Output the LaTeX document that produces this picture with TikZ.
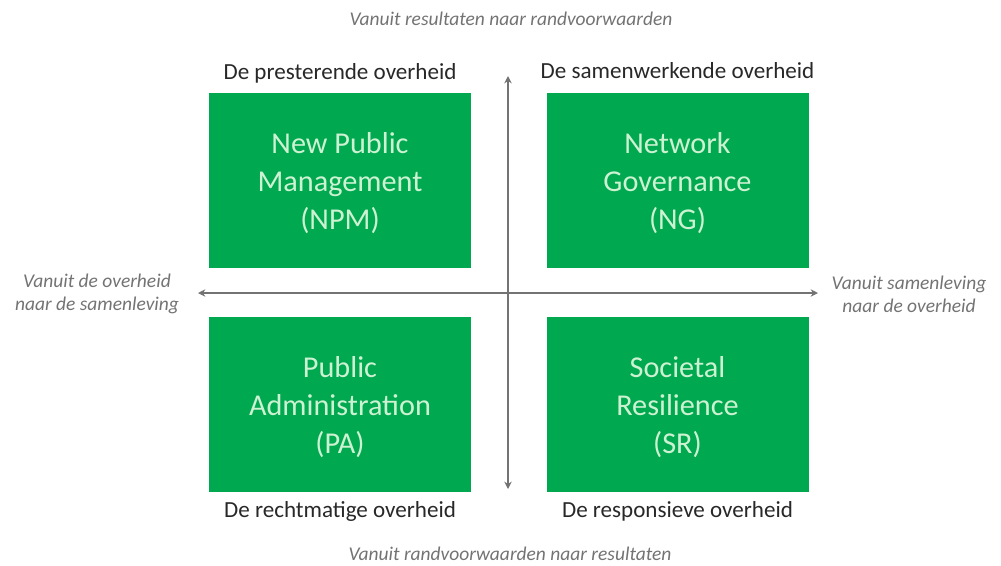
\documentclass[tikz,border=0pt]{standalone}
\usepackage{fontspec}
\setmainfont{Carlito}
\usetikzlibrary{arrows.meta}
\definecolor{boxgreen}{RGB}{0,168,80}
\definecolor{boxtext}{RGB}{205,242,210}
\definecolor{axisgray}{RGB}{115,115,115}
\definecolor{labeldark}{RGB}{40,40,40}
\definecolor{notegray}{RGB}{115,115,115}
\begin{document}
\begin{tikzpicture}[x=0.75pt,y=-0.75pt,
  quad/.style={fill=boxgreen, draw=none, minimum width=196.5pt, minimum height=131pt, inner sep=0pt},
  quadtext/.style={text=boxtext, align=center, font=\fontsize{22.7}{28.5}\selectfont, inner sep=0pt},
  heading/.style={text=labeldark, font=\fontsize{17.3}{20}\selectfont, inner sep=0pt},
  note/.style={text=notegray, font=\fontsize{14.6}{17.5}\selectfont\itshape, align=center, inner sep=0pt},
  axis/.style={draw=axisgray, line width=1.5pt, {Stealth[length=5.5pt,width=5.5pt]}-{Stealth[length=5.5pt,width=5.5pt]}}]
\useasboundingbox (0,0) rectangle (1001,565);
% quadrants
\node[quad] (npm) at (340,180.5) {};
\node[quad] (ng)  at (677.5,180.5) {};
\node[quad] (pa)  at (340,404.5) {};
\node[quad] (sr)  at (677.5,404.5) {};
\node[quadtext] (npmt) at ([yshift=-2.25pt]npm.center) {New Public\\Management\\(NPM)};
\node[quadtext] (ngt)  at ([yshift=-2.25pt]ng.center) {Network\\Governance\\(NG)};
\node[quadtext] (pat)  at ([yshift=-2.25pt]pa.center) {Public\\Administration\\(PA)};
\node[quadtext] (srt)  at ([yshift=-2.25pt]sr.center) {Societal\\Resilience\\(SR)};
% axes
\coordinate (top) at (508,76);
\coordinate (bottom) at (508,489);
\coordinate (left) at (198,293);
\coordinate (right) at (818,293);
\draw[axis] (bottom) -- (top);
\draw[axis] (left) -- (right);
% quadrant headings
\node[heading] (h1) at (340,73) {De presterende overheid};
\node[heading] (h2) at (677.5,71) {De samenwerkende overheid};
\node[heading] (h3) at (340,511) {De rechtmatige overheid};
\node[heading] (h4) at (677.5,511) {De responsieve overheid};
% axis notes
\node[note] (n1) at (511,19) {Vanuit resultaten naar randvoorwaarden};
\node[note] (n2) at (510,554) {Vanuit randvoorwaarden naar resultaten};
\node[note] (n3) at (97,294) {Vanuit de overheid\\naar de samenleving};
\node[note] (n4) at (909,294) {Vanuit samenleving\\naar de overheid};
\end{tikzpicture}
\end{document}
